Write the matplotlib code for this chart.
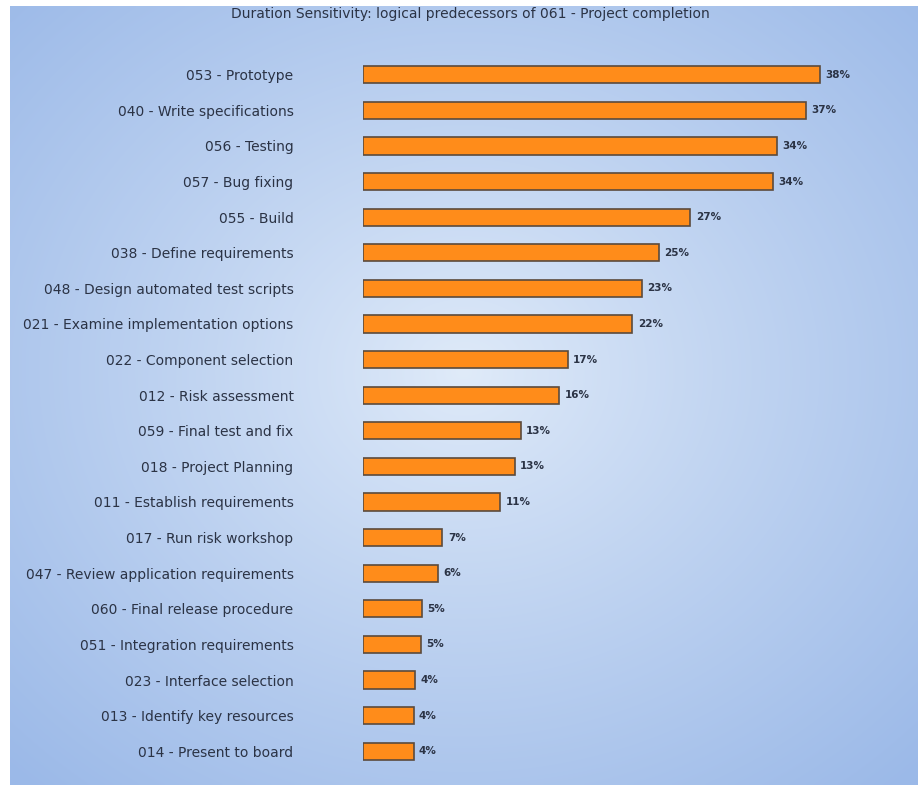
import numpy as np
import matplotlib
matplotlib.use("Agg")
from matplotlib import pyplot as plt

tasks = ["053 - Prototype", "040 - Write specifications", "056 - Testing",
         "057 - Bug fixing", "055 - Build", "038 - Define requirements",
         "048 - Design automated test scripts", "021 - Examine implementation options",
         "022 - Component selection", "012 - Risk assessment",
         "059 - Final test and fix", "018 - Project Planning",
         "011 - Establish requirements", "017 - Run risk workshop",
         "047 - Review application requirements", "060 - Final release procedure",
         "051 - Integration requirements", "023 - Interface selection",
         "013 - Identify key resources", "014 - Present to board"]
sensitivity = [38.0, 36.8, 34.4, 34.1, 27.2, 24.6, 23.2, 22.4, 17.0, 16.3,
               13.1, 12.6, 11.4, 6.6, 6.2, 4.9, 4.8, 4.3, 4.2, 4.2]
title = "Duration Sensitivity: logical predecessors of 061 - Project completion"

W, H = 918, 785
fig = plt.figure(figsize=(W / 100, H / 100), dpi=100)
fig.patch.set_facecolor("white")

# radial gradient background panel
bg = fig.add_axes([10 / W, 0, (W - 10) / W, (H - 6) / H])
yy, xx = np.mgrid[0:1:300j, 0:1:300j]
r = np.sqrt(((xx - 0.5) / 0.72) ** 2 + ((yy - 0.47) / 0.72) ** 2)
r = np.clip(r, 0, 1) ** 0.9
edge = np.array([155, 185, 232]) / 255
centre = np.array([224, 235, 249]) / 255
img = centre[None, None, :] * (1 - r[..., None]) + edge[None, None, :] * r[..., None]
bg.imshow(img, aspect="auto", extent=[0, 1, 1, 0], interpolation="bilinear")
bg.set_axis_off()

# chart axes
px = 12.03
left, top, bottom = 363, 57, 769
ax = fig.add_axes([left / W, (H - bottom) / H, (W - left) / W, (bottom - top) / H])
ax.set_facecolor("none")
y = np.arange(len(tasks))
ax.barh(y, sensitivity, height=0.48, color="#ff8c1a", edgecolor="#5b4a3c", linewidth=1.2)
ax.set_xlim(0, (W - left) / px)
ax.set_ylim(len(tasks) - 0.5, -0.5)
ax.set_yticks(y)
ax.set_yticklabels(tasks, fontsize=10, color="#2b3345", family="DejaVu Sans")
ax.tick_params(axis="y", length=0, pad=50)
ax.set_xticks([])
for s in ax.spines.values():
    s.set_visible(False)
for yi, v in zip(y, sensitivity):
    ax.text(v + 0.45, yi, f"{round(v)}%", va="center", ha="left",
            fontsize=7.5, fontweight="bold", color="#2b3345", family="DejaVu Sans")

fig.text(470 / W, 1 - 14 / H, title, ha="center", va="center",
         fontsize=10, color="#2b3345", family="DejaVu Sans")

fig.savefig("out.png", dpi=100)
